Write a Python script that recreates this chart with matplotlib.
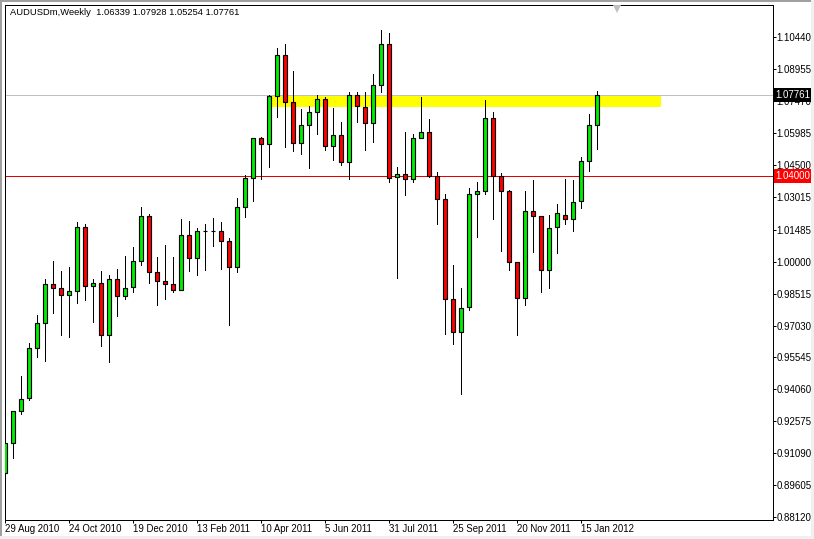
import matplotlib
matplotlib.use("Agg")
import matplotlib.pyplot as plt
from matplotlib.patches import Rectangle
from matplotlib.transforms import blended_transform_factory

W, H = 814, 539

opens = [0.9015, 0.9155, 0.9307, 0.9364, 0.9597, 0.9713, 0.9895, 0.9876, 0.9844, 0.9862,
         1.0160, 0.9885, 0.9899, 0.9658, 0.9918, 0.9839, 0.9881, 1.0002, 1.0211, 0.9951,
         0.9909, 0.9895, 0.9867, 1.0123, 1.0016, 1.0141, 1.0141, 1.0141, 1.0095, 0.9974,
         1.0253, 1.0388, 1.0574, 1.0546, 1.0770, 1.0960, 1.0742, 1.0551, 1.0635, 1.0695,
         1.0756, 1.0537, 1.0588, 1.0465, 1.0774, 1.0718, 1.0644, 1.0821, 1.1011, 1.0393,
         1.0407, 1.0383, 1.0574, 1.0602, 1.0399, 1.0290, 0.9825, 0.9671, 0.9788, 1.0314,
         1.0328, 1.0667, 1.0397, 1.0328, 0.9997, 0.9830, 1.0234, 1.0211, 0.9960, 1.0160,
         1.0216, 1.0197, 1.0281, 1.0467, 1.06339]
highs = [0.9175, 0.9307, 0.9468, 0.9620, 0.9752, 0.9919, 1.0003, 0.9957, 0.9977, 1.0183,
         1.0174, 0.9918, 0.9957, 0.9938, 0.9965, 1.0026, 1.0067, 1.0253, 1.0221, 1.0020,
         1.0076, 1.0020, 1.0197, 1.0188, 1.0155, 1.0174, 1.0202, 1.0183, 1.0109, 1.0295,
         1.0402, 1.0574, 1.0580, 1.0776, 1.0994, 1.1013, 1.0887, 1.0710, 1.0723, 1.0776,
         1.0765, 1.0717, 1.0649, 1.0788, 1.0788, 1.0788, 1.0873, 1.1078, 1.1064, 1.0439,
         1.0603, 1.0593, 1.0765, 1.0663, 1.0416, 1.0314, 0.9983, 0.9876, 1.0341, 1.0369,
         1.0751, 1.0695, 1.0411, 1.0332, 0.9997, 1.0328, 1.0379, 1.0211, 1.0216, 1.0267,
         1.0383, 1.0379, 1.0486, 1.0686, 1.07928]
lows = [0.8859, 0.9088, 0.9293, 0.9358, 0.9557, 0.9539, 0.9763, 0.9660, 0.9651, 0.9809,
        0.9823, 0.9721, 0.9609, 0.9535, 0.9749, 0.9828, 0.9860, 0.9986, 0.9902, 0.9800,
        0.9828, 0.9860, 0.9867, 0.9958, 0.9939, 0.9963, 1.0074, 0.9967, 0.9704, 0.9951,
        1.0207, 1.0284, 1.0386, 1.0442, 1.0675, 1.0535, 1.0516, 1.0502, 1.0437, 1.0596,
        1.0521, 1.0475, 1.0451, 1.0386, 1.0651, 1.0521, 1.0558, 1.0791, 1.0372, 0.9925,
        1.0312, 1.0372, 1.0574, 1.0395, 1.0177, 0.9665, 0.9618, 0.9386, 0.9777, 1.0116,
        1.0316, 1.0200, 1.0051, 0.9963, 0.9660, 0.9800, 1.0046, 0.9860, 0.9879, 1.0042,
        1.0177, 1.0144, 1.0251, 1.0423, 1.05254]
closes = [0.9155, 0.9307, 0.9362, 0.9597, 0.9713, 0.9895, 0.9876, 0.9844, 0.9862, 1.0160,
          0.9885, 0.9899, 0.9658, 0.9918, 0.9839, 0.9876, 1.0002, 1.0211, 0.9951, 0.9909,
          0.9895, 0.9867, 1.0123, 1.0016, 1.0141, 1.0141, 1.0141, 1.0095, 0.9974, 1.0253,
          1.0388, 1.0574, 1.0546, 1.0770, 1.0960, 1.0742, 1.0551, 1.0635, 1.0695, 1.0756,
          1.0537, 1.0588, 1.0465, 1.0774, 1.0723, 1.0644, 1.0821, 1.1011, 1.0388, 1.0407,
          1.0383, 1.0574, 1.0602, 1.0399, 1.0290, 0.9825, 0.9671, 0.9783, 1.0314, 1.0328,
          1.0667, 1.0397, 1.0328, 0.9997, 0.9830, 1.0234, 1.0211, 0.9960, 1.0155, 1.0225,
          1.0197, 1.0276, 1.0467, 1.0634, 1.07761]

price_ticks = [1.10440, 1.08955, 1.07470, 1.05985, 1.04500, 1.03015, 1.01485, 1.00000,
               0.98515, 0.97030, 0.95545, 0.94060, 0.92575, 0.91090, 0.89605, 0.88120]
date_ticks = [0, 8, 16, 24, 32, 40, 48, 56, 64, 72]
date_labels = ["29 Aug 2010", "24 Oct 2010", "19 Dec 2010", "13 Feb 2011", "10 Apr 2011",
               "5 Jun 2011", "31 Jul 2011", "25 Sep 2011", "20 Nov 2011", "15 Jan 2012"]

current_price = 1.07761
level_price = 1.04000
zone_low, zone_high = 1.0721, 1.0776
zone_start, zone_end = 33, 82
title = "AUDUSDm,Weekly  1.06339 1.07928 1.05254 1.07761"

plt.rcParams["font.family"] = ["Liberation Sans", "DejaVu Sans"]
px = 0.72  # 1 pixel in points at dpi 100

fig = plt.figure(figsize=(W / 100, H / 100), dpi=100)
ax = fig.add_axes([4.5 / W, 1 - 519.5 / H, 768 / W, 515 / H])
ax.set_xlim(-0.0625, 95.94)
ax.set_ylim(0.88005, 1.11967)

# window chrome
fig.add_artist(Rectangle((0, 1 - 2 / H), 1, 2 / H, transform=fig.transFigure, color="#a0a0a0", lw=0))
fig.add_artist(Rectangle((0, 0), 2 / W, 1, transform=fig.transFigure, color="#a0a0a0", lw=0))
fig.add_artist(Rectangle((0, 0), 1, 3 / H, transform=fig.transFigure, color="#f0f0f0", lw=0))
fig.add_artist(Rectangle((1 - 3 / W, 0), 3 / W, 1, transform=fig.transFigure, color="#f0f0f0", lw=0))

ax.add_patch(Rectangle((zone_start, zone_low), zone_end - zone_start, zone_high - zone_low,
                       facecolor="#ffff00", edgecolor="none", zorder=1))
ax.axhline(current_price, color="#c0c0c0", lw=px, zorder=2, antialiased=False)
ax.axhline(level_price, color="#e60000", lw=px, zorder=2, antialiased=False)

for i in range(len(opens)):
    ax.plot([i, i], [lows[i], highs[i]], color="black", lw=px, zorder=3,
            solid_capstyle="butt", antialiased=False)
    up = closes[i] >= opens[i]
    ax.bar(i, closes[i] - opens[i], bottom=opens[i], width=0.46,
           color="#00ee00" if up else "#ff0000", edgecolor="black", lw=px * 1.15, zorder=4)

for side in ax.spines.values():
    side.set_linewidth(px)
ax.set_yticks(price_ticks)
ax.set_yticklabels([f"{p:.5f}" for p in price_ticks])
ax.yaxis.tick_right()
ax.tick_params(axis="y", length=2.2, width=px, pad=0.6, labelsize=7, colors="black")
ax.set_xticks(date_ticks)
ax.set_xticklabels(date_labels, ha="left")
ax.tick_params(axis="x", length=2.2, width=px, pad=1.2, labelsize=6.9)

trans = blended_transform_factory(ax.transAxes, ax.transData)
for price, box in [(current_price, "black"), (level_price, "#ff0000")]:
    ax.text(1.0043, price, f"{price:.5f}", transform=trans, color="white", fontsize=7,
            ha="left", va="center", zorder=6, clip_on=False,
            bbox=dict(boxstyle="square,pad=0.2", facecolor=box, edgecolor="none"))

# chart shift marker under the top frame
ax.plot([76.5], [1.1175], marker="v", ms=5.5, color="#c0c0c0", mew=0, zorder=5)
ax.text(10 / W, 1 - 12.5 / H, title, transform=fig.transFigure, fontsize=6.75,
        ha="left", va="center", color="black")

fig.savefig("out.png", dpi=100)
